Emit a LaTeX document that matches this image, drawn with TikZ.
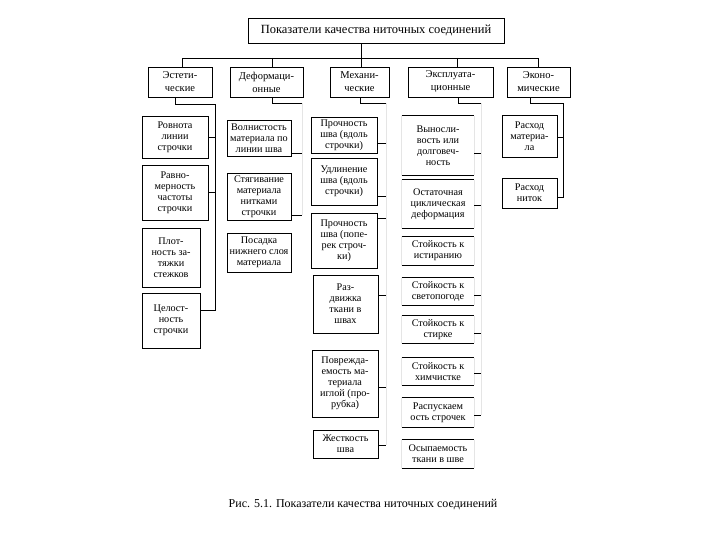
\documentclass[tikz,border=0pt]{standalone}
\usepackage{fontspec}
\setmainfont{Liberation Serif}
\newcommand\mybox[7][bx]{\node[#1, minimum width={#5-#3}, minimum height={#6-#4}] (#2) at ({(#3+#5)/2},{(#4+#6)/2}) {#7};}
\begin{document}
\begin{tikzpicture}[x=1pt,y=-1pt,
  bx/.style={draw, line width=0.7pt, align=center, inner sep=0.5pt, font=\fontsize{10.2}{11}\selectfont},
  bxo/.style={bx, draw=none},
  hd/.style={bx, font=\fontsize{10.5}{13}\selectfont},
  ln/.style={line width=0.7pt},
  faint/.style={line width=0.5pt, black!10}]
\useasboundingbox (0,0) rectangle (720,540);
% title
\mybox[hd]{T}{248}{18}{504}{43}{\fontsize{12.5}{14}\selectfont Показатели качества ниточных соединений}
% headers
\mybox[hd]{H1}{148}{67}{212}{97}{Эстети-\\ческие}
\mybox[hd]{H2}{230}{67}{303}{97}{Деформаци-\\онные}
\mybox[hd]{H3}{330}{67}{389}{97}{Механи-\\ческие}
\mybox[hd]{H4}{408}{67}{493}{97}{Эксплуата-\\ционные}
\mybox[hd]{H5}{507}{67}{570}{97}{Эконо-\\мические}
% bus
\coordinate (bus) at (361,58);
\coordinate (x1) at (182,58);
\coordinate (x2) at (272,58);
\coordinate (x4) at (457,58);
\coordinate (x5) at (538,58);
\draw[ln] (T.south -| bus) -- (bus);
\draw[ln] (H1.north -| x1) -- (x1) -- (x5) -- (H5.north -| x5);
\draw[ln] (x2) -- (H2.north -| x2);
\draw[ln] (bus) -- (H3.north -| bus);
\draw[ln] (x4) -- (H4.north -| x4);
% column 1
\mybox{A1}{142}{116}{208}{158}{Ровнота\\линии\\строчки}
\mybox{A2}{142}{165}{208}{220}{Равно-\\мерность\\частоты\\строчки}
\mybox{A3}{142}{228}{200}{287}{Плот-\\ность за-\\тяжки\\стежков}
\mybox{A4}{142}{293}{200}{348}{\fontsize{10.2}{17}\selectfont Целост-\\ность\\строчки}
\coordinate (a0) at (175,104);
\coordinate (a1) at (215,104);
\coordinate (a2) at (215,310);
\draw[ln] (H1.south -| a0) -- (a0) -- (a1) -- (a2) -- (a2 -| A4.east);
\draw[ln] (A1.east) -- (A1.east -| a1);
\draw[ln] (A2.east) -- (A2.east -| a1);
% column 2
\mybox{B1}{227}{120}{291}{156}{Волнистость\\материала по\\линии шва}
\mybox{B2}{227}{173}{291}{220}{Стягивание\\материала\\нитками\\строчки}
\mybox{B3}{227}{233}{291}{272}{Посадка\\нижнего слоя\\материала}
\coordinate (b0) at (272,103);
\coordinate (b1) at (302,103);
\coordinate (b2) at (302,153);
\coordinate (b3) at (302,215);
\draw[ln] (H2.south -| b0) -- (b0) -- (b1);
\draw[faint] (b1) -- (b3);
\draw[ln] (b2 -| B1.east) -- (b2);
\draw[ln] (b3 -| B2.east) -- (b3);
% column 3
\mybox{C1}{311}{117}{377}{153}{Прочность\\шва (вдоль\\строчки)}
\mybox{C2}{311}{158}{377}{205}{Удлинение\\шва (вдоль\\строчки)}
\mybox{C3}{311}{213}{377}{268}{Прочность\\шва (попе-\\рек строч-\\ки)}
\mybox{C4}{313}{275}{378}{333}{Раз-\\движка\\ткани в\\швах}
\mybox{C5}{312}{350}{378}{417}{Поврежда-\\емость ма-\\териала\\иглой (про-\\рубка)}
\mybox{C6}{313}{430}{378}{458}{Жесткость\\шва}
\coordinate (c0) at (360,103);
\coordinate (c1) at (386,103);
\coordinate (c2) at (386,445);
\draw[ln] (H3.south -| c0) -- (c0) -- (c1);
\draw[faint] (c1) -- (c2);
\draw[ln] (C1.east |- 0,143) -- (c1 |- 0,143);
\draw[ln] (C2.east |- 0,196) -- (c1 |- 0,196);
\draw[ln] (C3.east |- 0,218) -- (c1 |- 0,218);
\draw[ln] (C4.east |- 0,295) -- (c1 |- 0,295);
\draw[ln] (C5.east |- 0,387) -- (c1 |- 0,387);
\draw[ln] (C6.east |- 0,445) -- (c1 |- 0,445);
% column 4
\mybox[bxo]{D1}{402}{116}{474}{175}{Выносли-\\вость или\\долговеч-\\ность}
\mybox[bxo]{D2}{402}{180}{474}{228}{Остаточная\\циклическая\\деформация}
\mybox[bxo]{D3}{402}{237}{474}{265}{Стойкость к\\истиранию}
\mybox[bxo]{D4}{402}{278}{474}{305}{Стойкость к\\светопогоде}
\mybox[bxo]{D5}{402}{316}{474}{343}{Стойкость к\\стирке}
\mybox[bxo]{D6}{402}{358}{474}{385}{Стойкость к\\химчистке}
\mybox[bxo]{D7}{402}{398}{474}{427}{Распускаем\\ость строчек}
\mybox[bxo]{D8}{402}{440}{474}{468}{Осыпаемость\\ткани в шве}
\foreach \n in {D1,D2,D3,D4,D5,D6,D7,D8}{
  \draw[ln] (\n.north west) -- (\n.north east) (\n.south west) -- (\n.south east);
  \draw[faint] (\n.north west) -- (\n.south west) (\n.north east) -- (\n.south east);
}
\coordinate (d0) at (458,103);
\coordinate (d1) at (481,103);
\coordinate (d2) at (481,415);
\draw[ln] (H4.south -| d0) -- (d0) -- (d1);
\draw[faint] (d1) -- (d2);
\draw[ln] (D1.east |- 0,153) -- (d1 |- 0,153);
\draw[ln] (D2.east |- 0,205) -- (d1 |- 0,205);
\draw[ln] (D4.east |- 0,295) -- (d1 |- 0,295);
\draw[ln] (D5.east |- 0,333) -- (d1 |- 0,333);
\draw[ln] (D6.east |- 0,373) -- (d1 |- 0,373);
\draw[ln] (D7.east |- 0,415) -- (d1 |- 0,415);
% column 5
\mybox{E1}{502}{115}{557}{157}{Расход\\материа-\\ла}
\mybox{E2}{502}{178}{557}{208}{Расход\\ниток}
\coordinate (e0) at (530,103);
\coordinate (e1) at (563,103);
\coordinate (e2) at (563,197);
\draw[ln] (H5.south -| e0) -- (e0) -- (e1) -- (e2) -- (e2 -| E2.east);
\draw[ln] (E1.east |- 0,137) -- (e1 |- 0,137);
% caption
\node[font=\fontsize{12}{14}\selectfont] (cap) at (363,505) {Рис. 5.1. Показатели качества ниточных соединений};
\end{tikzpicture}
\end{document}
